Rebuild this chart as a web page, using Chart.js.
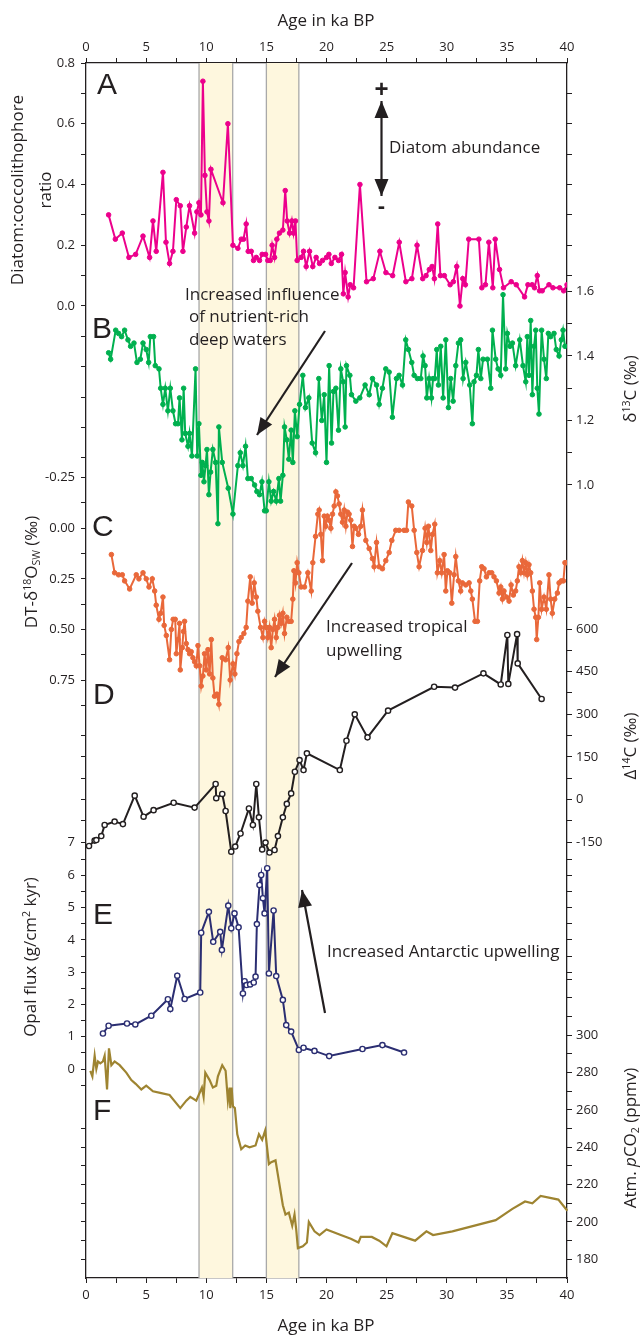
<!DOCTYPE html>
<html>
<head>
<meta charset="utf-8">
<script src="https://cdn.jsdelivr.net/npm/chart.js@4.4.1/dist/chart.umd.min.js"></script>
<style>
  html, body { margin: 0; padding: 0; background: #fff; }
  canvas { display: block; }
</style>
</head>
<body>
<canvas id="chart" width="641" height="1335"></canvas>
<script>
// [age ka BP, value]
const diatomRatio = [[1.88,0.30],[2.44,0.22],[3.02,0.24],[3.57,0.16],[4.13,0.17],[4.74,0.23],[5.29,0.16],[5.57,0.28],[5.84,0.18],[6.40,0.44],[6.65,0.21],[6.95,0.14],[7.23,0.18],[7.51,0.35],[7.84,0.33],[8.06,0.18],[8.34,0.26],[8.61,0.33],[9.03,0.24],[9.22,0.31],[9.39,0.34],[9.56,0.30],[9.72,0.74],[9.89,0.43],[10.06,0.31],[10.22,0.28],[10.39,0.45],[11.39,0.34],[11.80,0.60],[12.22,0.20],[12.63,0.19],[12.91,0.22],[13.10,0.22],[13.32,0.27],[13.49,0.18],[13.74,0.18],[13.93,0.15],[14.16,0.16],[14.43,0.15],[14.65,0.17],[14.93,0.17],[15.12,0.15],[15.32,0.15],[15.48,0.20],[15.68,0.16],[15.87,0.22],[16.09,0.24],[16.37,0.25],[16.57,0.38],[16.73,0.28],[16.93,0.24],[17.12,0.28],[17.26,0.24],[17.42,0.28],[17.56,0.15],[17.89,0.16],[18.09,0.18],[18.31,0.13],[18.59,0.18],[18.86,0.13],[19.14,0.16],[19.42,0.14],[19.67,0.15],[20.0,0.16],[20.2,0.17],[20.4,0.14],[20.7,0.16],[21.0,0.15],[21.25,0.17],[21.4,0.04],[21.55,0.11],[21.8,0.03],[21.97,0.07],[22.25,0.06],[22.78,0.40],[23.33,0.08],[23.89,0.09],[24.44,0.18],[24.94,0.11],[25.5,0.10],[26.05,0.21],[26.6,0.08],[27.1,0.09],[27.53,0.20],[28.0,0.09],[28.28,0.10],[28.55,0.12],[28.78,0.13],[28.97,0.09],[29.25,0.27],[29.47,0.10],[29.8,0.10],[30.28,0.07],[30.55,0.08],[30.83,0.13],[31.1,0.00],[31.33,0.09],[31.55,0.07],[31.83,0.22],[32.67,0.22],[32.92,0.06],[33.22,0.07],[33.5,0.21],[33.83,0.06],[34.03,0.22],[34.39,0.12],[34.72,0.06],[35.36,0.08],[35.78,0.07],[36.47,0.03],[36.75,0.07],[37.1,0.07],[37.3,0.06],[37.53,0.10],[37.72,0.05],[37.94,0.05],[38.5,0.07],[38.83,0.06],[39.39,0.06],[39.72,0.05],[40.0,0.07]];

const benthicD13C = [[1.88,1.41],[2.05,1.39],[2.47,1.48],[2.71,1.47],[2.96,1.46],[3.21,1.48],[3.49,1.45],[3.71,1.43],[3.99,1.44],[4.24,1.38],[4.52,1.39],[4.74,1.44],[5.01,1.42],[5.21,1.38],[5.35,1.46],[5.62,1.46],[5.76,1.37],[6.07,1.36],[6.21,1.30],[6.40,1.25],[6.59,1.30],[6.81,1.23],[7.01,1.30],[7.23,1.23],[7.45,1.19],[7.65,1.19],[7.78,1.27],[7.98,1.14],[8.12,1.30],[8.25,1.16],[8.48,1.12],[8.61,1.16],[8.81,1.09],[9.11,1.36],[9.25,1.09],[9.39,1.19],[9.56,1.03],[9.67,1.07],[9.81,1.01],[9.94,1.06],[10.06,1.11],[10.22,0.97],[10.36,1.04],[10.55,1.11],[10.78,1.07],[10.97,0.88],[11.05,1.18],[11.33,1.07],[11.83,0.99],[12.22,0.91],[12.63,1.06],[12.83,1.10],[13.05,1.06],[13.27,1.12],[13.46,1.02],[13.74,1.02],[14.02,1.00],[14.21,0.98],[14.43,0.97],[14.63,1.01],[14.85,0.92],[14.99,0.92],[15.21,1.01],[15.40,0.95],[15.60,0.98],[15.82,0.95],[16.04,1.02],[16.18,0.95],[16.37,1.03],[16.51,1.18],[16.70,1.14],[16.87,1.08],[17.06,1.17],[17.20,1.07],[17.37,1.23],[17.56,1.15],[17.76,1.25],[18.03,1.34],[18.25,1.24],[18.53,1.27],[18.81,1.13],[19.09,1.10],[19.36,1.33],[19.61,1.20],[19.81,1.28],[20.0,1.07],[20.22,1.37],[20.42,1.13],[20.58,1.29],[20.78,1.30],[21.0,1.17],[21.19,1.36],[21.39,1.32],[21.55,1.18],[21.66,1.37],[21.94,1.34],[22.08,1.28],[22.44,1.26],[22.77,1.27],[23.21,1.31],[23.55,1.28],[23.82,1.33],[24.16,1.31],[24.38,1.25],[24.65,1.30],[24.93,1.36],[25.21,1.35],[25.48,1.21],[25.82,1.33],[26.04,1.34],[26.32,1.31],[26.59,1.45],[26.81,1.42],[27.09,1.38],[27.29,1.34],[27.56,1.33],[27.84,1.33],[28.03,1.40],[28.2,1.37],[28.34,1.27],[28.53,1.33],[28.73,1.27],[28.86,1.33],[29.0,1.33],[29.17,1.42],[29.31,1.31],[29.5,1.43],[29.7,1.27],[29.92,1.45],[30.14,1.24],[30.33,1.33],[30.53,1.26],[30.75,1.37],[30.97,1.44],[31.16,1.45],[31.36,1.33],[31.58,1.38],[31.91,1.31],[32.13,1.19],[32.27,1.32],[32.47,1.34],[32.63,1.42],[32.83,1.33],[33.02,1.39],[33.38,1.39],[33.66,1.30],[33.8,1.48],[34.07,1.39],[34.27,1.36],[34.49,1.34],[34.68,1.59],[34.9,1.36],[35.04,1.47],[35.26,1.43],[35.46,1.44],[35.73,1.37],[36.07,1.45],[36.34,1.37],[36.57,1.32],[36.7,1.46],[36.84,1.34],[36.98,1.51],[37.12,1.28],[37.26,1.43],[37.4,1.48],[37.53,1.30],[37.67,1.22],[37.89,1.48],[38.09,1.39],[38.28,1.33],[38.45,1.47],[38.64,1.46],[38.92,1.47],[39.11,1.42],[39.34,1.40],[39.53,1.45],[39.67,1.48],[39.83,1.43]];

const dtD18Osw = [[2.11,0.13],[2.38,0.22],[2.71,0.23],[3.02,0.23],[3.21,0.26],[3.63,0.30],[4.18,0.23],[4.40,0.25],[4.74,0.22],[5.01,0.25],[5.24,0.29],[5.51,0.25],[5.71,0.31],[5.84,0.38],[6.07,0.45],[6.21,0.42],[6.40,0.34],[6.50,0.48],[6.68,0.53],[6.95,0.65],[7.10,0.50],[7.25,0.45],[7.42,0.45],[7.51,0.62],[7.65,0.55],[7.78,0.47],[7.84,0.70],[8.01,0.59],[8.10,0.51],[8.20,0.46],[8.34,0.57],[8.48,0.60],[8.61,0.62],[8.75,0.61],[8.89,0.64],[9.03,0.66],[9.17,0.68],[9.31,0.58],[9.45,0.68],[9.58,0.78],[9.72,0.73],[9.86,0.62],[10.0,0.70],[10.14,0.60],[10.28,0.72],[10.42,0.55],[10.55,0.74],[10.69,0.83],[10.89,0.82],[11.05,0.87],[11.33,0.64],[11.61,0.65],[11.83,0.59],[11.99,0.75],[12.22,0.67],[12.38,0.72],[12.55,0.62],[12.72,0.56],[12.91,0.54],[13.13,0.52],[13.32,0.49],[13.46,0.36],[13.66,0.24],[13.82,0.37],[13.99,0.27],[14.16,0.34],[14.29,0.41],[14.52,0.49],[14.71,0.54],[14.85,0.46],[14.99,0.49],[15.12,0.54],[15.26,0.49],[15.40,0.59],[15.54,0.50],[15.68,0.45],[15.82,0.54],[15.96,0.49],[16.09,0.43],[16.23,0.47],[16.37,0.42],[16.51,0.52],[16.70,0.44],[16.87,0.46],[17.06,0.46],[17.20,0.35],[17.29,0.21],[17.42,0.27],[17.56,0.17],[17.70,0.22],[17.89,0.29],[18.17,0.29],[18.45,0.22],[18.73,0.31],[18.86,0.17],[19.09,0.04],[19.28,-0.07],[19.39,-0.09],[19.53,0.03],[19.67,0.16],[19.81,-0.06],[19.94,-0.01],[20.08,-0.06],[20.22,-0.04],[20.36,0.00],[20.5,-0.07],[20.64,-0.11],[20.78,-0.18],[20.91,-0.16],[21.05,-0.12],[21.19,-0.07],[21.33,-0.03],[21.47,-0.09],[21.61,-0.01],[21.75,-0.08],[21.88,-0.07],[22.02,-0.04],[22.16,0.09],[22.3,-0.01],[22.44,0.00],[22.66,0.03],[22.85,-0.01],[22.99,-0.09],[23.27,0.06],[23.55,0.10],[23.82,0.15],[23.96,0.19],[24.16,0.07],[24.38,0.19],[24.65,0.20],[24.93,0.16],[25.21,0.12],[25.43,0.06],[25.76,0.01],[26.04,0.01],[26.45,0.01],[26.65,0.01],[26.81,-0.13],[27.09,-0.11],[27.29,0.01],[27.51,0.12],[27.7,0.19],[27.98,0.11],[28.2,0.00],[28.34,0.07],[28.48,-0.01],[28.67,0.11],[28.81,0.03],[29.0,-0.02],[29.22,0.22],[29.42,0.16],[29.58,0.22],[29.78,0.13],[29.92,0.31],[30.06,0.21],[30.25,0.22],[30.42,0.37],[30.61,0.23],[30.75,0.14],[30.97,0.26],[31.16,0.31],[31.3,0.27],[31.58,0.28],[31.86,0.27],[32.0,0.31],[32.13,0.35],[32.35,0.46],[32.55,0.46],[32.74,0.26],[32.91,0.19],[33.1,0.20],[33.3,0.24],[33.52,0.22],[33.74,0.22],[33.93,0.24],[34.13,0.26],[34.35,0.32],[34.49,0.29],[34.63,0.35],[34.76,0.31],[34.96,0.34],[35.18,0.36],[35.35,0.28],[35.54,0.33],[35.73,0.31],[35.87,0.26],[36.01,0.19],[36.15,0.22],[36.29,0.16],[36.43,0.22],[36.57,0.17],[36.7,0.23],[36.84,0.18],[36.98,0.22],[37.12,0.31],[37.26,0.40],[37.4,0.44],[37.48,0.55],[37.62,0.44],[37.73,0.27],[37.89,0.40],[38.09,0.34],[38.28,0.40],[38.5,0.23],[38.64,0.35],[38.78,0.42],[38.98,0.35],[39.2,0.32],[39.34,0.27],[39.53,0.26],[39.7,0.26],[39.83,0.17],[39.94,0.17]];

const delta14C = [[0.25,-163],[0.72,-144],[0.86,-142],[1.27,-128],[1.55,-89],[2.38,-77],[3.07,-86],[4.05,14],[4.79,-60],[5.62,-37],[7.29,-11],[9.03,-28],[10.78,55],[10.83,5],[11.33,20],[11.61,-40],[12.08,-183],[12.41,-165],[12.85,-119],[13.55,-31],[13.88,-89],[14.16,55],[14.38,-62],[14.65,-175],[14.93,-151],[15.26,-186],[15.68,-177],[15.96,-128],[16.37,-62],[16.70,-15],[17.06,22],[17.37,98],[17.76,139],[18.09,104],[18.37,163],[21.11,104],[21.66,207],[22.35,300],[23.41,219],[25.12,313],[28.95,397],[30.69,394],[33.05,444],[34.49,405],[35.04,579],[35.12,407],[35.85,582],[35.9,479],[37.89,354]];

const opalFlux = [[1.41,1.10],[1.88,1.34],[3.41,1.41],[4.10,1.38],[5.43,1.65],[6.81,2.16],[7.01,1.86],[7.59,2.89],[8.20,2.17],[9.50,2.37],[9.58,4.22],[10.22,4.87],[10.58,3.94],[11.16,4.25],[11.30,3.69],[11.83,5.06],[12.08,4.36],[12.35,4.82],[12.69,4.39],[13.05,2.34],[13.19,2.72],[13.35,2.60],[13.65,2.62],[13.95,2.68],[14.10,2.86],[14.21,4.49],[14.43,5.70],[14.57,6.01],[14.71,5.29],[14.85,4.82],[15.07,6.22],[15.21,2.96],[15.60,4.91],[15.82,2.88],[16.37,2.14],[16.65,1.36],[17.06,1.16],[17.70,0.59],[18.09,0.66],[19.0,0.56],[20.22,0.40],[22.99,0.62],[24.65,0.74],[26.45,0.51]];

const atmCO2 = [[0.36,281],[0.53,278],[0.72,289],[0.86,282],[1.0,286],[1.19,285],[1.41,286],[1.55,289],[1.75,271],[1.91,293],[2.11,284],[2.38,286],[2.80,284],[3.35,280],[3.77,276],[4.13,274],[4.60,271],[5.01,273],[5.57,270],[6.26,269],[6.95,268],[7.84,261],[8.34,265],[8.67,267],[9.17,265],[9.64,272],[9.78,267],[9.92,280],[10.28,276],[10.55,272],[10.83,273],[10.97,278],[11.33,284],[11.61,281],[11.80,265],[11.94,272],[12.0,261],[12.11,272],[12.22,262],[12.38,261],[12.58,247],[12.91,239],[13.24,241],[13.60,240],[14.10,241],[14.38,247],[14.65,244],[14.90,249],[15.21,231],[15.40,232],[15.76,233],[16.09,220],[16.37,209],[16.59,204],[16.87,205],[17.15,198],[17.34,204],[17.48,196],[17.62,186],[18.03,187],[18.37,189],[18.53,200],[19.0,195],[19.42,193],[20.0,196],[21.19,193],[22.02,191],[22.66,189],[22.85,192],[23.77,192],[24.38,190],[24.99,187],[25.48,194],[27.37,190],[28.31,195],[28.86,193],[30.47,195],[34.07,201],[35.46,207],[36.51,211],[37.12,210],[37.81,214],[39.28,212],[40.03,206],[40.86,200]];

const shadedBands = [[9.4, 12.2], [15.0, 17.7]];

// ticks
const ageTicks = [0,2.5,5,7.5,10,12.5,15,17.5,20,22.5,25,27.5,30,32.5,35,37.5,40];
const ageLabels = [0,5,10,15,20,25,30,35,40];
const ratioTicks = [-0.5,-0.4,-0.3,-0.2,-0.1,0,0.1,0.2,0.3,0.4,0.5,0.6,0.7,0.8];
const ratioLabels = [0,0.2,0.4,0.6,0.8];
const ratioMirrorTicks = [0.1,0.2,0.3,0.4,0.5,0.6,0.7];
const d13cTicks = [1.0,1.1,1.2,1.3,1.4,1.5,1.6];
const d13cLabels = [1.0,1.2,1.4,1.6];
const d18oTicks = [-0.25,-0.125,0,0.125,0.25,0.375,0.5,0.625,0.75,0.875];
const d18oLabels = [-0.25,0,0.25,0.5,0.75];
const d14cTicks = [-150,-75,0,75,150,225,300,375,450,525,600,675];
const d14cLabels = [-150,0,150,300,450,600];
const d14cLeftTicks = [-150,-75,0,75,150,225];
const d14cLeftLabels = [-150];
const opalTicks = [-0.5,0,0.5,1,1.5,2,2.5,3,3.5,4,4.5,5,5.5,6,6.5];
const opalLabels = [0,1,2,3,4,5,6];
const opalMirrorTicks = [3,3.5,4,4.5,5,5.5,6,6.5];
const co2Ticks = [180,190,200,210,220,230,240,250,260,270,280,290,300,310,320,330];
const co2Labels = [180,200,220,240,260,280,300];
const co2MirrorTicks = [180,190,200,210,220,230,240,250];

const ink = '#231f20';
const FONT = '"Open Sans", "DejaVu Sans", sans-serif';

function yAxis(position, min, max, ticks, labels, fmt, extra) {
  return Object.assign({
    type: 'linear', position, min, max,
    afterFit: s => { s.width = 0; },
    afterBuildTicks: s => { s.ticks = ticks.map(v => ({ value: v })); },
    ticks: {
      autoSkip: false, padding: position === 'left' ? 6 : 4, color: ink,
      font: { family: FONT, size: 13 },
      callback: v => labels.some(l => Math.abs(l - v) < 1e-6) ? fmt(v) : ''
    },
    grid: { drawOnChartArea: false, tickLength: 5, tickColor: ink, tickWidth: 1 },
    border: { display: false }
  }, extra || {});
}

function xAxis(position) {
  return {
    type: 'linear', position, min: 0, max: 40,
    afterFit: s => { s.height = 0; },
    afterBuildTicks: s => { s.ticks = ageTicks.map(v => ({ value: v })); },
    ticks: {
      autoSkip: false, maxRotation: 0, padding: position === 'top' ? 3 : 4, color: ink,
      font: { family: FONT, size: 13 },
      callback: v => ageLabels.includes(v) ? String(v) : ''
    },
    grid: { drawOnChartArea: false, tickLength: 5, tickColor: ink, tickWidth: 1 },
    border: { display: true, color: ink, width: 1.3 }
  };
}

const f1 = v => v.toFixed(1), f2 = v => v.toFixed(2), f0 = v => String(Math.round(v));
const edge = { display: true, color: ink, width: 1.3 };

function series(data, color, axis, open, extra) {
  return Object.assign({
    data: data.map(([x, y]) => ({ x, y })),
    xAxisID: 'x', yAxisID: axis, showLine: true,
    borderColor: color, borderWidth: 2, tension: 0,
    pointRadius: open ? 2.6 : 2.3,
    pointBackgroundColor: open ? '#ffffff' : color,
    pointBorderColor: color, pointBorderWidth: open ? 1.4 : 1
  }, extra || {});
}

// layout bits
const panelLetters = [['A', 97, 86], ['B', 92, 330], ['C', 92, 528], ['D', 93, 696], ['E', 93, 916], ['F', 93, 1112]];
const notes = [
  ['Diatom abundance', 389, 148],
  ['Increased influence', 185, 295],
  ['of nutrient-rich', 189, 317],
  ['deep waters', 189, 340],
  ['Increased tropical', 326, 627],
  ['upwelling', 326, 651],
  ['Increased Antarctic upwelling', 327, 952]
];
const arrows = [
  { from: [325, 331], to: [257, 435] },
  { from: [352, 563], to: [275, 677] },
  { from: [325, 1013], to: [302, 890] },
  { from: [381.5, 196], to: [381.5, 101], both: true }
];
const titles = [
  { parts: [['Age in ka BP']], x: 326, y: 20, rot: 0 },
  { parts: [['Age in ka BP']], x: 326, y: 1325, rot: 0 },
  { parts: [['Diatom:coccolithophore']], x: 17, y: 190, rot: -Math.PI / 2 },
  { parts: [['ratio']], x: 45, y: 190, rot: -Math.PI / 2 },
  { parts: [['DT-δ'], ['18', 'sup'], ['O'], ['SW', 'sub'], [' (‰)']], x: 31, y: 572, rot: -Math.PI / 2 },
  { parts: [['Opal flux (g/cm'], ['2', 'sup'], [' kyr)']], x: 30, y: 957, rot: -Math.PI / 2 },
  { parts: [['δ'], ['13', 'sup'], ['C (‰)']], x: 630, y: 389, rot: -Math.PI / 2 },
  { parts: [['Δ'], ['14', 'sup'], ['C (‰)']], x: 630, y: 746, rot: -Math.PI / 2 },
  { parts: [['Atm. '], ['p', 'it'], ['CO'], ['2', 'sub'], [' (ppmv)']], x: 630, y: 1138, rot: -Math.PI / 2 }
];

function drawRich(ctx, parts, x, y, size, rot) {
  const fontFor = k => (k === 'it' ? 'italic ' : '') + ((k === 'sup' || k === 'sub') ? size * 0.62 : size) + 'px ' + FONT;
  let w = 0;
  parts.forEach(([t, k]) => { ctx.font = fontFor(k); w += ctx.measureText(t).width; });
  ctx.save();
  ctx.translate(x, y);
  ctx.rotate(rot);
  ctx.textAlign = 'left';
  ctx.textBaseline = 'alphabetic';
  let cx = -w / 2;
  const base = size * 0.36;
  parts.forEach(([t, k]) => {
    ctx.font = fontFor(k);
    const dy = k === 'sup' ? -size * 0.38 : k === 'sub' ? size * 0.14 : 0;
    ctx.fillText(t, cx, base + dy);
    cx += ctx.measureText(t).width;
  });
  ctx.restore();
}

function arrowHead(ctx, x1, y1, x2, y2) {
  const a = Math.atan2(y2 - y1, x2 - x1), len = 17, half = 7;
  ctx.beginPath();
  ctx.moveTo(x2, y2);
  ctx.lineTo(x2 - len * Math.cos(a) + half * Math.sin(a), y2 - len * Math.sin(a) - half * Math.cos(a));
  ctx.lineTo(x2 - len * Math.cos(a) - half * Math.sin(a), y2 - len * Math.sin(a) + half * Math.cos(a));
  ctx.closePath();
  ctx.fill();
}

// axes are squeezed to zero size so they overlap; give them their label room back
const axisBoxPlugin = {
  id: 'axisBoxes',
  afterLayout(chart) {
    const a = chart.chartArea;
    Object.values(chart.scales).forEach(s => {
      const p = s.options.position;
      if (p === 'left') { s.left = 0; s.right = a.left; s.width = a.left; }
      else if (p === 'right') { s.left = a.right; s.right = chart.width; s.width = chart.width - a.right; }
      else if (p === 'top') { s.top = 0; s.bottom = a.top; s.height = a.top; }
      else if (p === 'bottom') { s.top = a.bottom; s.bottom = chart.height; s.height = chart.height - a.bottom; }
    });
  }
};

const bandsPlugin = {
  id: 'bands',
  beforeDatasetsDraw(chart) {
    const { ctx, chartArea: { top, bottom }, scales: { x } } = chart;
    ctx.save();
    shadedBands.forEach(([a, b]) => {
      const x0 = x.getPixelForValue(a), x1 = x.getPixelForValue(b);
      ctx.fillStyle = '#fef7de';
      ctx.fillRect(x0, top, x1 - x0, bottom - top);
      ctx.strokeStyle = '#a9a9a9';
      ctx.lineWidth = 1.3;
      ctx.beginPath();
      ctx.moveTo(x0, top); ctx.lineTo(x0, bottom);
      ctx.moveTo(x1, top); ctx.lineTo(x1, bottom);
      ctx.stroke();
    });
    ctx.restore();
  }
};

const notesPlugin = {
  id: 'notes',
  afterDraw(chart) {
    const ctx = chart.ctx;
    ctx.save();
    ctx.fillStyle = ink;
    ctx.strokeStyle = ink;
    ctx.font = '30px "Liberation Sans", Arial, sans-serif';
    ctx.textAlign = 'left';
    ctx.textBaseline = 'middle';
    panelLetters.forEach(([t, x, y]) => ctx.fillText(t, x, y));

    ctx.font = '17px ' + FONT;
    notes.forEach(([t, x, y]) => ctx.fillText(t, x, y));

    ctx.lineWidth = 2.2;
    arrows.forEach(({ from, to, both }) => {
      ctx.beginPath();
      ctx.moveTo(from[0], from[1]);
      ctx.lineTo(to[0], to[1]);
      ctx.stroke();
      arrowHead(ctx, from[0], from[1], to[0], to[1]);
      if (both) arrowHead(ctx, to[0], to[1], from[0], from[1]);
    });

    ctx.textAlign = 'center';
    ctx.font = 'bold 24px "Liberation Sans", Arial, sans-serif';
    ctx.fillText('+', 381.5, 90);
    ctx.font = 'bold 22px "Liberation Sans", Arial, sans-serif';
    ctx.fillText('-', 381.5, 207);

    titles.forEach(t => drawRich(ctx, t.parts, t.x, t.y, 17, t.rot));
    ctx.restore();
  }
};

new Chart(document.getElementById('chart'), {
  type: 'scatter',
  data: {
    datasets: [
      series(diatomRatio, '#ec008c', 'yA', false),
      series(benthicD13C, '#00b04f', 'yB', false),
      series(dtD18Osw, '#e9683a', 'yC', false),
      series(delta14C, ink, 'yD', true),
      series(opalFlux, '#2b2e72', 'yE', true),
      series(atmCO2, '#9e8431', 'yF', false, { pointRadius: 0, borderWidth: 2.2, clip: false })
    ]
  },
  options: {
    responsive: false,
    animation: false,
    events: [],
    layout: { padding: { left: 86, right: 74, top: 63, bottom: 57 } },
    plugins: { legend: { display: false }, tooltip: { enabled: false } },
    scales: {
      x: xAxis('top'),
      x2: xAxis('bottom'),
      yA: yAxis('left', -3.2, 0.8, ratioTicks, ratioLabels, f1, { border: edge }),
      yAr: yAxis('right', -3.2, 0.8, ratioMirrorTicks, [], f1),
      yB: yAxis('right', -1.4589, 2.3085, d13cTicks, d13cLabels, f1, { border: edge }),
      yC: yAxis('left', -2.3, 3.706, d18oTicks, d18oLabels, f2, { reverse: true }),
      yD: yAxis('right', -1682, 2590.2, d14cTicks, d14cLabels, f0),
      yDl: yAxis('left', -1682, 2590.2, d14cLeftTicks, d14cLeftLabels, () => '7'),
      yE: yAxis('left', -6.474, 31.162, opalTicks, opalLabels, f0),
      yEr: yAxis('right', -6.474, 31.162, opalMirrorTicks, [], f0),
      yF: yAxis('right', 170, 820.8, co2Ticks, co2Labels, f0),
      yFl: yAxis('left', 170, 820.8, co2MirrorTicks, [], f0)
    }
  },
  plugins: [axisBoxPlugin, bandsPlugin, notesPlugin]
});
</script>
</body>
</html>
